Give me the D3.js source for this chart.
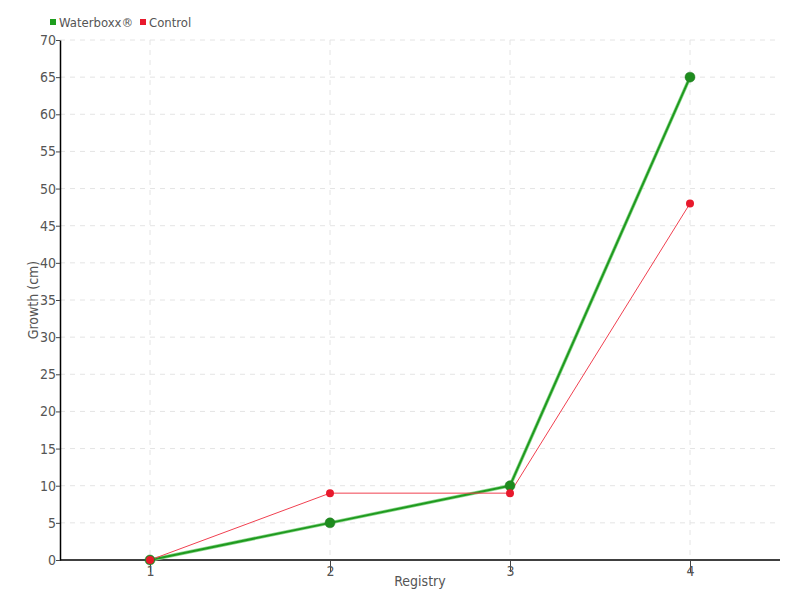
<!DOCTYPE html>
<html><head><meta charset="utf-8">
<script src="https://cdn.jsdelivr.net/npm/d3@7"></script>
<style>
body{margin:0;background:#fff;}
text{font-family:"DejaVu Sans Condensed","DejaVu Sans",sans-serif;}
</style></head>
<body><svg id="c" width="800" height="600"></svg>
<script>
const categories = [1, 2, 3, 4];
const waterboxx = [0, 5, 10, 65];
const control = [0, 9, 9, 48];
const yTicks = [0,5,10,15,20,25,30,35,40,45,50,55,60,65,70];
const seriesNames = ["Waterboxx®", "Control"];

const svg = d3.select("#c");
const m = {l:60, r:20, t:40, b:40};
const W = 800, H = 600;
const x = d3.scaleLinear().domain([0.5, 4.5]).range([m.l, W - m.r]);
const y = d3.scaleLinear().domain([0, 70]).range([H - m.b, m.t]);
const green = "#1f9a1f";

// grid
svg.append("g").selectAll("line").data(yTicks.slice(1)).join("line")
  .attr("x1", m.l).attr("x2", W - m.r).attr("y1", d => y(d)).attr("y2", d => y(d))
  .attr("stroke", "#e4e4e4").attr("stroke-dasharray", "5,5");
svg.append("g").selectAll("line").data(categories).join("line")
  .attr("x1", d => x(d)).attr("x2", d => x(d)).attr("y1", m.t).attr("y2", H - m.b)
  .attr("stroke", "#e4e4e4").attr("stroke-dasharray", "5,5");

// axes
const ya = svg.append("g").attr("transform", `translate(${m.l},0)`)
  .call(d3.axisLeft(y).tickValues(yTicks).tickSize(4).tickSizeOuter(0));
const xa = svg.append("g").attr("transform", `translate(0,${H - m.b})`)
  .call(d3.axisBottom(x).tickValues(categories).tickFormat(d3.format("d")).tickSize(12).tickSizeOuter(0));
[ya, xa].forEach(a => {
  a.select(".domain").attr("stroke", "#000").attr("stroke-width", 1.5);
  a.selectAll(".tick line").attr("stroke", "#444");
  a.selectAll("text").attr("fill", "#555").attr("font-size", 14)
    .attr("font-family", "'DejaVu Sans Condensed', sans-serif");
});
ya.selectAll("text").attr("x", -4);
xa.selectAll("text").attr("y", 6);
xa.select(".domain").attr("d", `M${m.l},0H${W - m.r}`);

// axis labels
svg.append("text").attr("x", (m.l + W - m.r)/2).attr("y", 586).attr("text-anchor", "middle")
  .attr("fill", "#555").attr("font-size", 14).text("Registry");
svg.append("text").attr("transform", `translate(38,${(m.t + H - m.b)/2}) rotate(-90)`)
  .attr("text-anchor", "middle").attr("fill", "#555").attr("font-size", 14).text("Growth (cm)");

const line = d3.line().x((d,i) => x(categories[i])).y(d => y(d));
// waterboxx
svg.append("path").datum(waterboxx).attr("d", line).attr("fill", "none")
  .attr("stroke", "#8fd88f").attr("stroke-width", 3.5);
svg.append("path").datum(waterboxx).attr("d", line).attr("fill", "none")
  .attr("stroke", green).attr("stroke-width", 2);
svg.append("path").datum(control).attr("d", line).attr("fill", "none")
  .attr("stroke", "#f04050").attr("stroke-width", 1);
svg.append("g").selectAll("circle").data(waterboxx).join("circle")
  .attr("cx", (d,i) => x(categories[i])).attr("cy", d => y(d)).attr("r", 5)
  .attr("fill", "#1e8c1e").attr("stroke", "#2a7a2a").attr("stroke-width", 0.5);
svg.append("g").selectAll("circle").data(control).join("circle")
  .attr("cx", (d,i) => x(categories[i])).attr("cy", d => y(d)).attr("r", 4)
  .attr("fill", "#e8192c");

// legend
const lg = svg.append("g");
const lx = [50, 140];
const cols = ["#1e9e1e", "#e8192c"];
seriesNames.forEach((n, i) => {
  lg.append("rect").attr("x", lx[i]).attr("y", 19).attr("width", 6).attr("height", 6).attr("fill", cols[i]);
  lg.append("text").attr("x", lx[i] + 9).attr("y", 27).attr("fill", "#555").attr("font-size", 13).text(n);
});
</script></body></html>
